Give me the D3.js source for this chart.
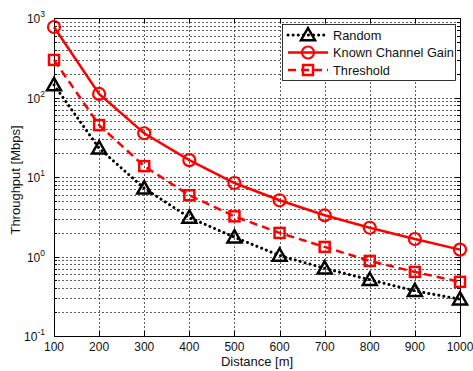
<!DOCTYPE html>
<html>
<head>
<meta charset="utf-8">
<script src="https://cdnjs.cloudflare.com/ajax/libs/d3/7.8.5/d3.min.js"></script>
<style>
  body { margin: 0; background: #fff; }
  svg { display: block; font-family: "Liberation Sans", Arial, sans-serif; }
</style>
</head>
<body>
<div id="chart"></div>
<script>
const distances = [100, 200, 300, 400, 500, 600, 700, 800, 900, 1000];
const knownGain = [770, 111, 35.5, 16.3, 8.4, 5.1, 3.3, 2.3, 1.66, 1.22];
const threshold = [297, 45, 13.7, 5.9, 3.2, 1.98, 1.32, 0.88, 0.64, 0.48];
const randomSel = [144, 23, 7.2, 3.1, 1.75, 1.03, 0.71, 0.51, 0.37, 0.29];
const xTicks = [100, 200, 300, 400, 500, 600, 700, 800, 900, 1000];
const yExponents = [-1, 0, 1, 2, 3];

const W = 473, H = 371;
const m = { left: 54, top: 18, right: 13, bottom: 35 };
const iw = W - m.left - m.right, ih = H - m.top - m.bottom;

const svg = d3.select('#chart').append('svg').attr('width', W).attr('height', H);
const g = svg.append('g').attr('transform', `translate(${m.left},${m.top})`);

const x = d3.scaleLinear().domain([100, 1000]).range([0, iw]);
const y = d3.scaleLog().domain([0.1, 1000]).range([ih, 0]);

// grid
const minorVals = [];
for (let e = -1; e < 3; e++) for (let k = 1; k <= 9; k++) minorVals.push(k * Math.pow(10, e));
minorVals.push(1000);
g.append('g').selectAll('line.gy').data(minorVals.filter(v => v > 0.1 && v < 1000)).enter()
  .append('line')
  .attr('x1', 0).attr('x2', iw)
  .attr('y1', d => Math.round(y(d)) + 0.5).attr('y2', d => Math.round(y(d)) + 0.5)
  .attr('stroke', '#333').attr('stroke-width', 0.8).attr('stroke-dasharray', '2,2');
g.append('g').selectAll('line.gx').data(xTicks.slice(1, -1)).enter()
  .append('line')
  .attr('x1', d => Math.round(x(d)) + 0.5).attr('x2', d => Math.round(x(d)) + 0.5)
  .attr('y1', 0).attr('y2', ih)
  .attr('stroke', '#333').attr('stroke-width', 0.8).attr('stroke-dasharray', '2,2');

// frame
g.append('rect').attr('x', 0.5).attr('y', 0.5).attr('width', iw).attr('height', ih)
  .attr('fill', 'none').attr('stroke', '#000').attr('stroke-width', 1);

// ticks inside
const tk = g.append('g').attr('stroke', '#000').attr('stroke-width', 1);
xTicks.forEach(v => {
  const px = Math.round(x(v)) + 0.5;
  tk.append('line').attr('x1', px).attr('x2', px).attr('y1', ih).attr('y2', ih - 5);
  tk.append('line').attr('x1', px).attr('x2', px).attr('y1', 0).attr('y2', 5);
});
minorVals.forEach(v => {
  const py = Math.round(y(v)) + 0.5;
  const major = Math.abs(Math.log10(v) - Math.round(Math.log10(v))) < 1e-9;
  const len = major ? 5 : 3;
  tk.append('line').attr('x1', 0).attr('x2', len).attr('y1', py).attr('y2', py);
  tk.append('line').attr('x1', iw - len).attr('x2', iw).attr('y1', py).attr('y2', py);
});

// x tick labels
g.append('g').selectAll('text').data(xTicks).enter().append('text')
  .attr('x', d => x(d)).attr('y', ih + 15)
  .attr('text-anchor', 'middle').attr('font-size', 12).attr('fill', '#111')
  .text(d => d);

// y tick labels 10^e
const yl = g.append('g').selectAll('text').data(yExponents).enter().append('text')
  .attr('x', -9).attr('y', d => y(Math.pow(10, d)) + 5)
  .attr('text-anchor', 'end').attr('font-size', 12).attr('fill', '#111');
yl.append('tspan').text('10');
yl.append('tspan').attr('dy', -6).attr('font-size', 8.5).text(d => d);

// axis titles
svg.append('text').attr('x', m.left + iw / 2).attr('y', H - 5)
  .attr('text-anchor', 'middle').attr('font-size', 13).attr('fill', '#111').text('Distance [m]');
svg.append('text').attr('transform', `translate(20,180) rotate(-90)`)
  .attr('text-anchor', 'middle').attr('font-size', 13).attr('fill', '#111').text('Throughput [Mbps]');

// series
const series = [
  { name: 'Random', vals: randomSel, color: '#000', dash: '0.1,5', width: 3, cap: 'round', marker: 'tri' },
  { name: 'Known Channel Gain', vals: knownGain, color: '#ff0000', dash: null, width: 2.5, cap: 'butt', marker: 'circ' },
  { name: 'Threshold', vals: threshold, color: '#ff0000', dash: '8,5', width: 2.5, cap: 'butt', marker: 'sq' }
];

const line = d3.line().x(d => x(d[0])).y(d => y(d[1]));

function drawMarker(sel, type, color, cx, cy) {
  if (type === 'circ') {
    sel.append('circle').attr('cx', cx).attr('cy', cy).attr('r', 6)
      .attr('fill', 'none').attr('stroke', color).attr('stroke-width', 2.2);
  } else if (type === 'sq') {
    sel.append('rect').attr('x', cx - 5).attr('y', cy - 5).attr('width', 10).attr('height', 10)
      .attr('fill', 'none').attr('stroke', color).attr('stroke-width', 2.5);
  } else {
    const s = 7;
    sel.append('path')
      .attr('d', `M${cx},${cy - s}L${cx + s},${cy + s * 0.75}L${cx - s},${cy + s * 0.75}Z`)
      .attr('fill', 'none').attr('stroke', color).attr('stroke-width', 2.5).attr('stroke-linejoin', 'miter');
  }
}

const plot = g.append('g');
series.forEach(s => {
  const pts = distances.map((d, i) => [d, s.vals[i]]);
  plot.append('path').datum(pts).attr('d', line)
    .attr('fill', 'none').attr('stroke', s.color).attr('stroke-width', s.width)
    .attr('stroke-linecap', s.cap)
    .attr('stroke-dasharray', s.dash);
  pts.forEach(p => drawMarker(plot, s.marker, s.color, x(p[0]), y(p[1])));
});

// legend
const lg = svg.append('g').attr('transform', 'translate(282,24)');
lg.append('rect').attr('x', 0.5).attr('y', 0.5).attr('width', 173).attr('height', 56)
  .attr('fill', '#fff').attr('stroke', '#000').attr('stroke-width', 0.8);
series.forEach((s, i) => {
  const ly = 11 + i * 17.5;
  lg.append('line').attr('x1', 6).attr('x2', 46).attr('y1', ly).attr('y2', ly)
    .attr('stroke', s.color).attr('stroke-width', s.width)
    .attr('stroke-linecap', s.cap).attr('stroke-dasharray', s.dash);
  drawMarker(lg, s.marker, s.color, 26, ly);
  lg.append('text').attr('x', 51).attr('y', ly + 4.5).attr('font-size', 12.8).attr('fill', '#111').text(s.name);
});
</script>
</body>
</html>
